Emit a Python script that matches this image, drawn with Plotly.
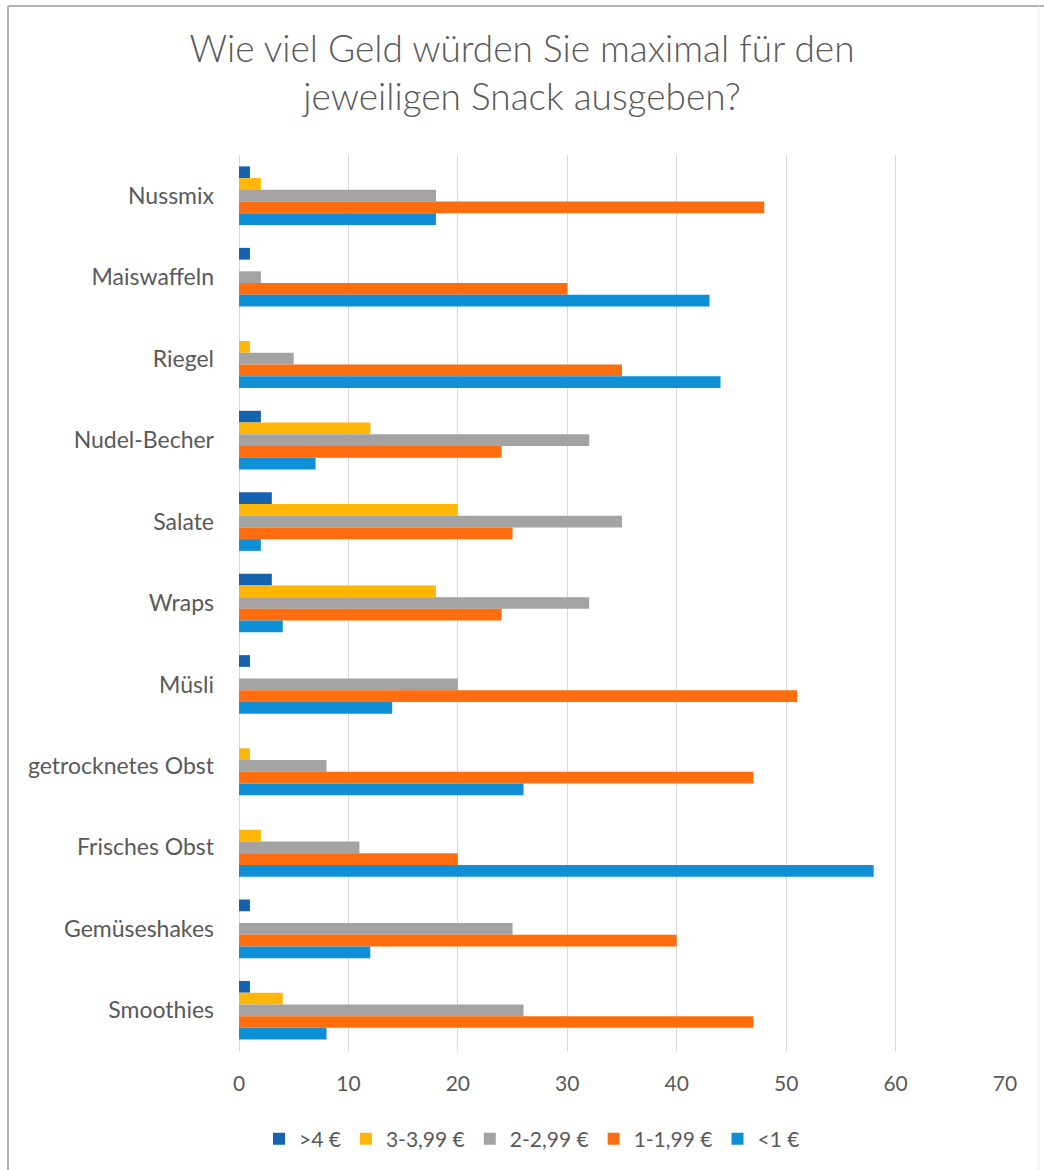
import plotly.graph_objects as go

categories = ["Nussmix", "Maiswaffeln", "Riegel", "Nudel-Becher", "Salate", "Wraps",
              "Müsli", "getrocknetes Obst", "Frisches Obst", "Gemüseshakes", "Smoothies"]

series_names = [">4 €", "3-3,99 €", "2-2,99 €", "1-1,99 €", "<1 €"]
vals_gt4 = [1, 1, 0, 2, 3, 3, 1, 0, 0, 1, 1]
vals_3 = [2, 0, 1, 12, 20, 18, 0, 1, 2, 0, 4]
vals_2 = [18, 2, 5, 32, 35, 32, 20, 8, 11, 25, 26]
vals_1 = [48, 30, 35, 24, 25, 24, 51, 47, 20, 40, 47]
vals_lt1 = [18, 43, 44, 7, 2, 4, 14, 26, 58, 12, 8]
colors = ["#1562AE", "#FFB606", "#A3A3A3", "#FF6D0F", "#0E8FD6"]

x_ticks = [0, 10, 20, 30, 40, 50, 60, 70]

W, H = 1044, 1170
ML, MR, MT, MB = 239, 39, 155, 119
PW, PH = W - ML - MR, H - MT - MB

def px_x(p):
    return (p - ML) / PW

def px_y(p):
    return (H - MB - p) / PH

fig = go.Figure()
for name, vals, col in zip(series_names, [vals_gt4, vals_3, vals_2, vals_1, vals_lt1], colors):
    fig.add_trace(go.Bar(y=categories, x=vals, name=name, orientation="h",
                         marker=dict(color=col, line=dict(width=0))))

font_family = "Lato, Open Sans, sans-serif"
fig.update_layout(
    width=W, height=H,
    margin=dict(l=ML, r=MR, t=MT, b=MB, autoexpand=False),
    paper_bgcolor="white", plot_bgcolor="white",
    barmode="group", bargap=0.28, bargroupgap=0,
    font=dict(family=font_family, color="#595959", size=20),
    title=dict(text="Wie viel Geld würden Sie maximal für den<br>jeweiligen Snack ausgeben?",
               x=0.5, xref="container", xanchor="center",
               y=1 - 62 / H, yref="container", yanchor="middle",
               font=dict(family=font_family, size=37, color="#595959", weight=300)),
    xaxis=dict(range=[0, 70], tickvals=x_ticks, showgrid=True, gridcolor="#D9D9D9",
               gridwidth=1, zeroline=True, zerolinecolor="#D9D9D9", zerolinewidth=1,
               showline=False, ticks="", tickfont=dict(size=21, color="#595959"),
               ticklabelstandoff=18, fixedrange=True),
    yaxis=dict(autorange="reversed", showgrid=False, showline=False, ticks="",
               tickfont=dict(size=23, color="#595959"), ticklabelstandoff=24),
    legend=dict(orientation="h", x=px_x(532), xref="paper", xanchor="center",
                y=px_y(1139), yanchor="middle", font=dict(size=21, color="#595959"),
                traceorder="normal", itemwidth=30, tracegroupgap=0,
                bgcolor="rgba(0,0,0,0)"),
    showlegend=True,
)

# outer chart frame
fig.add_shape(type="line", xref="paper", yref="paper",
              x0=px_x(8), x1=px_x(1044), y0=px_y(6), y1=px_y(6),
              line=dict(color="#B3B3B3", width=2))
fig.add_shape(type="line", xref="paper", yref="paper",
              x0=px_x(8), x1=px_x(8), y0=px_y(6), y1=px_y(1170),
              line=dict(color="#B3B3B3", width=2))
fig.add_shape(type="line", xref="paper", yref="paper",
              x0=px_x(1039), x1=px_x(1039), y0=px_y(6), y1=px_y(1170),
              line=dict(color="#EDEDED", width=1))

fig.write_html("out.html")
